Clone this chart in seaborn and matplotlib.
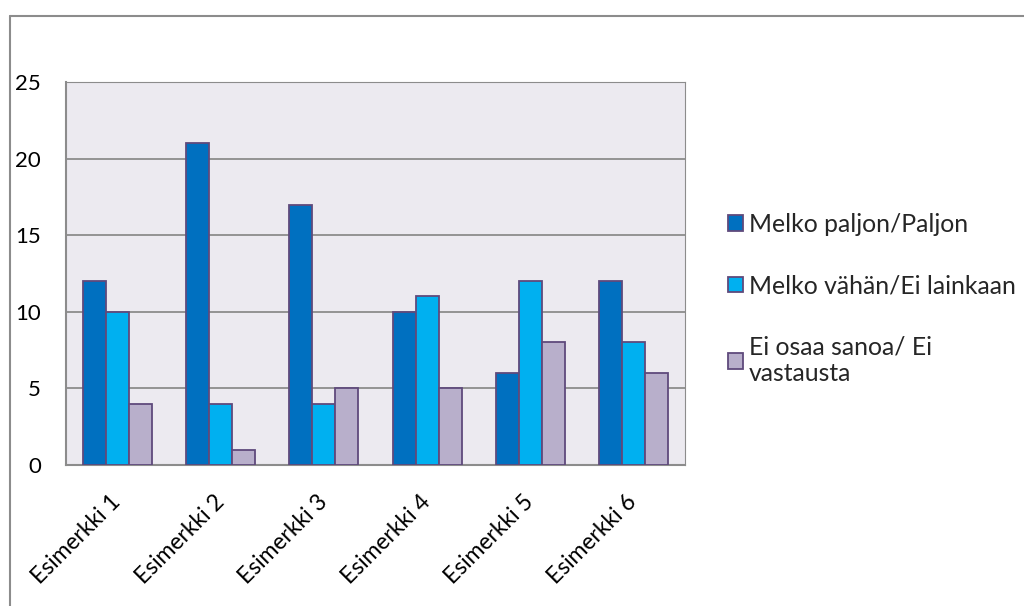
import numpy as np
import pandas as pd
import matplotlib
matplotlib.use("Agg")
import matplotlib.pyplot as plt
import seaborn as sns
from matplotlib.patches import Patch
from matplotlib.lines import Line2D

# Data
categories = ["Esimerkki 1", "Esimerkki 2", "Esimerkki 3", "Esimerkki 4", "Esimerkki 5", "Esimerkki 6"]
series_names = ["Melko paljon/Paljon", "Melko vähän/Ei lainkaan", "Ei osaa sanoa/ Ei vastausta"]
legend_labels = ["Melko paljon/Paljon", "Melko vähän/Ei lainkaan", "Ei osaa sanoa/ Ei\nvastausta"]
paljon = [12, 21, 17, 10, 6, 12]
vahan = [10, 4, 4, 11, 12, 8]
ei_osaa = [4, 1, 5, 5, 8, 6]
yticks = [0, 5, 10, 15, 20, 25]

colors = ["#0070C0", "#00B0F0", "#B8AFCB"]
edge = "#5F4A7C"

df = pd.DataFrame({
    "cat": categories * 3,
    "series": sum([[s] * len(categories) for s in series_names], []),
    "value": paljon + vahan + ei_osaa,
})

sns.set_style("white")
plt.rcParams["font.family"] = ["Lato", "DejaVu Sans"]

fig = plt.figure(figsize=(10.24, 6.06), dpi=100)
ax = fig.add_axes([66 / 1024, 1 - 465 / 606, (685 - 66) / 1024, (465 - 82) / 606])
ax.set_facecolor("#ECEAF0")

sns.barplot(data=df, x="cat", y="value", hue="series", hue_order=series_names,
            palette=colors, width=0.67, edgecolor=edge, linewidth=1.3,
            saturation=1, legend=False, ax=ax, zorder=3)

ax.set_ylim(0, 25)
ax.set_xlim(-0.5, len(categories) - 0.5)
ax.set_yticks(yticks)
ax.yaxis.grid(True, color="#8C8C8C", linewidth=1.3, zorder=0)
ax.set_axisbelow(True)
ax.tick_params(axis="both", length=0, colors="black")
ax.tick_params(axis="y", pad=18, labelsize=16)
ax.set_xticks(range(len(categories)))
ax.set_xticklabels(categories, rotation=45, ha="right", va="center",
                   rotation_mode="anchor", fontsize=16.5)
ax.tick_params(axis="x", pad=24)
ax.set_xlabel("")
ax.set_ylabel("")
for side in ["top", "right"]:
    ax.spines[side].set_color("#8C8C8C")
    ax.spines[side].set_linewidth(0.8)
for side in ["left", "bottom"]:
    ax.spines[side].set_color("#8C8C8C")
    ax.spines[side].set_linewidth(1.5)

# outer chart frame (top and left edges visible)
fig.add_artist(Line2D([10 / 1024, 1.0], [1 - 16 / 606, 1 - 16 / 606], color="#8C8C8C", linewidth=1.5))
fig.add_artist(Line2D([10 / 1024, 10 / 1024], [1 - 16 / 606, 0.0], color="#8C8C8C", linewidth=1.5))

handles = [Patch(facecolor=c, edgecolor=edge, linewidth=1.3) for c in colors]
fig.legend(handles, legend_labels, loc="upper left", bbox_to_anchor=(718 / 1024, 1 - 203 / 606),
           frameon=False, fontsize=17.8, handlelength=0.6, handleheight=0.6,
           handletextpad=0.25, labelspacing=1.55, borderaxespad=0)

fig.savefig("out.png", dpi=100)
